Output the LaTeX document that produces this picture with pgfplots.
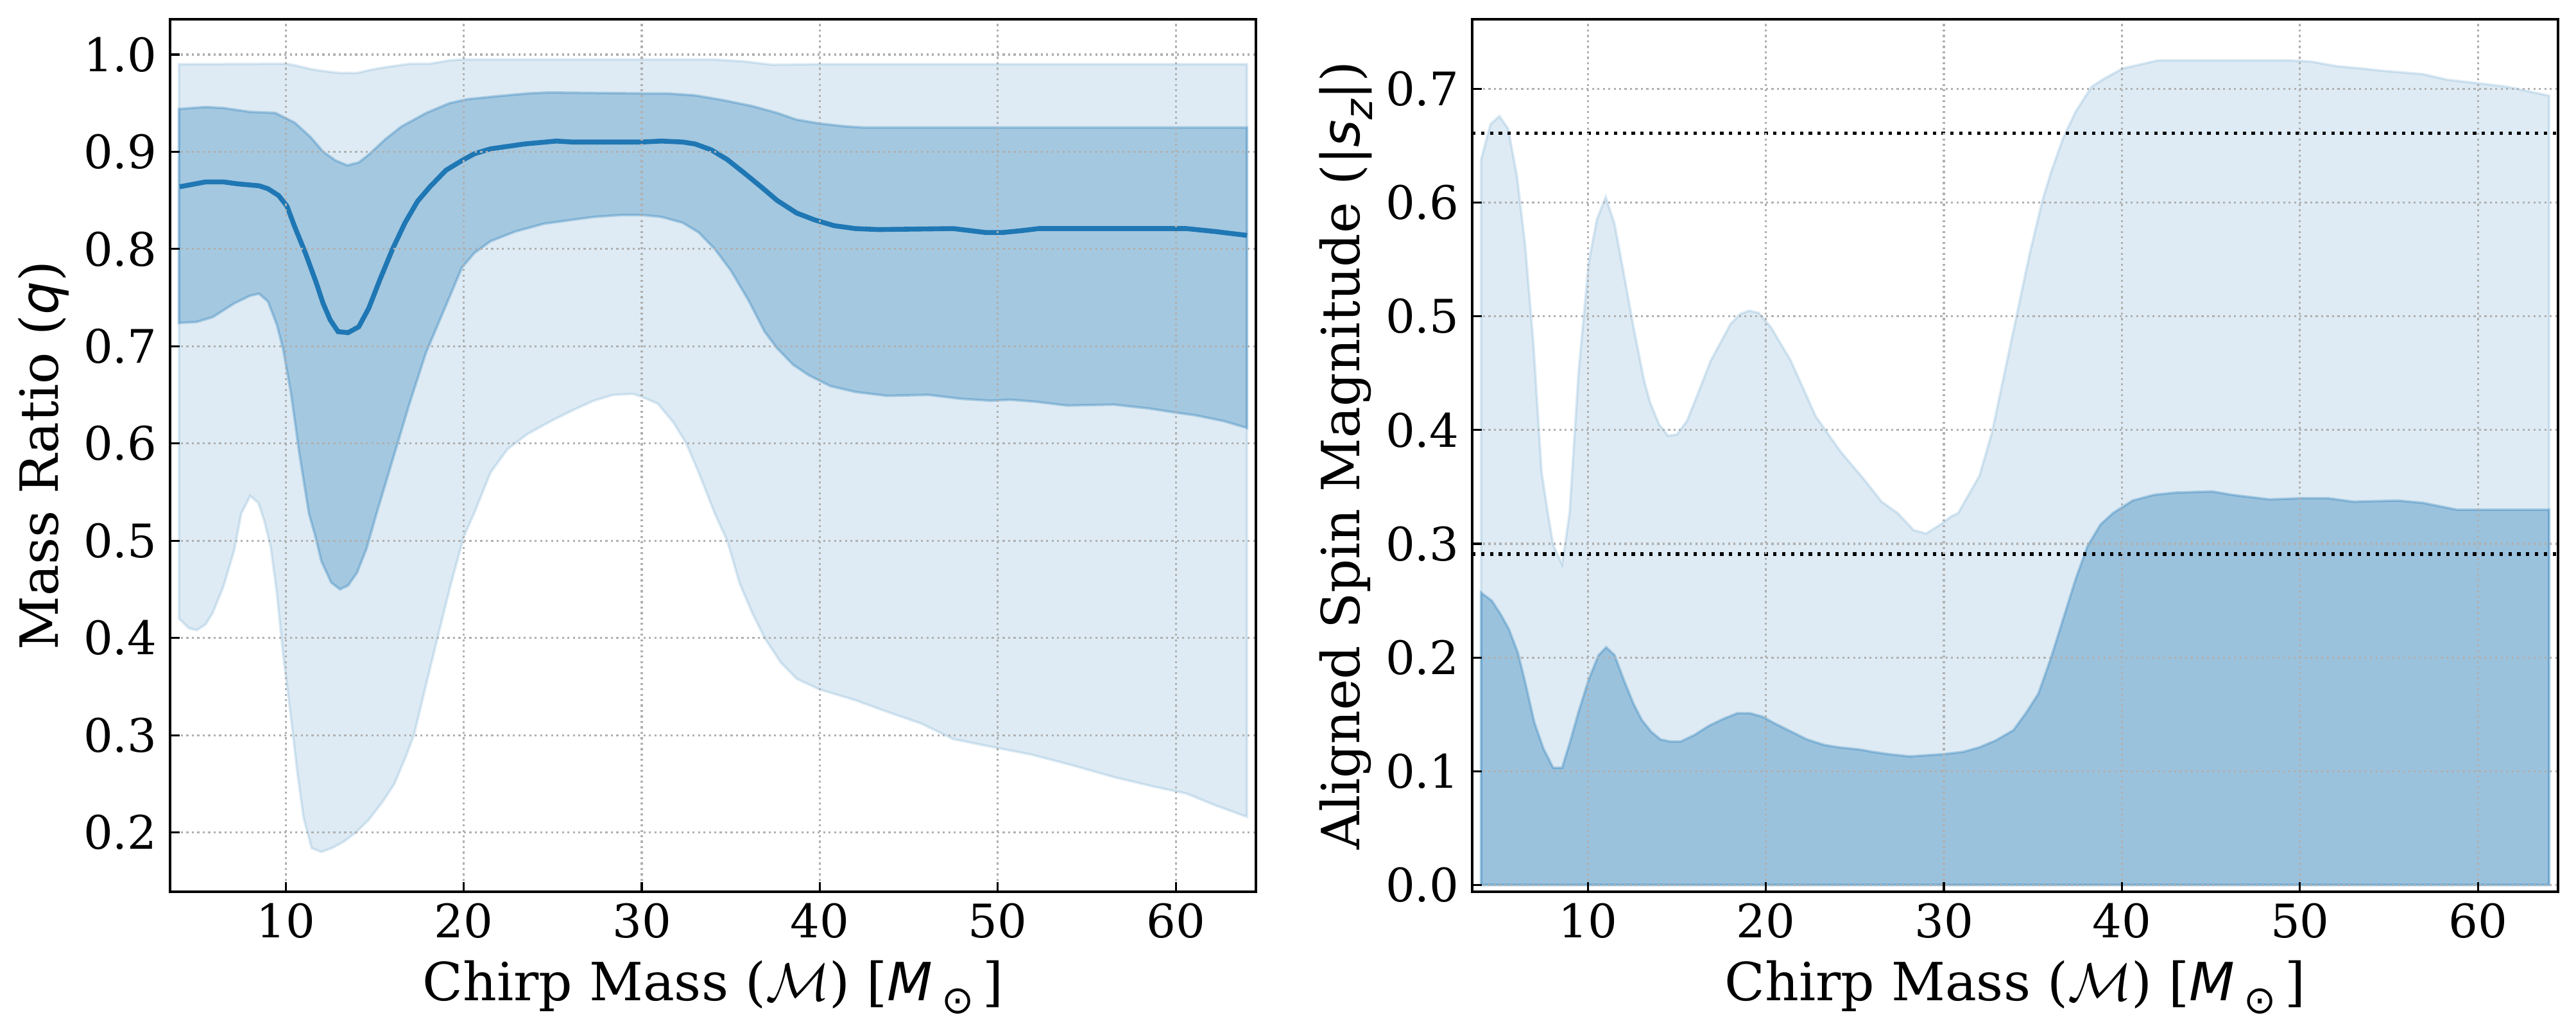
\documentclass[border=0pt]{standalone}
\usepackage{fontspec}
\setmainfont{DejaVu Serif}
\newfontfamily\dvsans{DejaVu Sans}
\usepackage{pgfplots}
\pgfplotsset{compat=1.18}
\definecolor{C0}{HTML}{1F77B4}
\definecolor{gridc}{HTML}{B0B0B0}
\pgfplotsset{
  common/.style={
    scale only axis, width=423pt, height=339.65pt,
    xmin=3.5, xmax=64.5,
    xtick={10,20,30,40,50,60},
    tick align=inside, tick pos=left,
    major tick length=3.75pt,
    every tick/.style={black, line width=0.8pt},
    axis line style={line width=1pt},
    grid=major,
    major grid style={draw=gridc, line width=0.8pt, dash pattern=on 0.8pt off 1.32pt},
    axis on top,
    /pgf/number format/assume math mode=true,
    tick label style={font=\fontsize{18}{21}\selectfont},
    label style={font=\fontsize{20.5}{24}\selectfont},
    xticklabel style={inner sep=0pt, yshift=-4.2pt},
    yticklabel style={inner sep=0pt, xshift=-4.9pt,
      /pgf/number format/.cd, fixed, fixed zerofill, precision=1},
    scaled y ticks=false,
    xlabel style={at={(axis description cs:0.5,-0.1245)}, anchor=base},
    ylabel style={at={(axis description cs:-0.1164,0.5)}, anchor=center},
    xlabel={Chirp Mass ($\mathcal{M}$) [{\dvsans\itshape M}\,{\dvsans\raisebox{-0.45ex}{\fontsize{15}{15}\selectfont ⊙}}\,]},
  },
  light/.style={fill=C0, fill opacity=0.15, draw=C0, draw opacity=0.15, line width=1pt},
}
\begin{document}
\begin{tikzpicture}
\useasboundingbox (0,0) rectangle (1003.5pt,402pt);
% ---------------- left panel ----------------
\begin{axis}[common, at={(66.25pt,54.75pt)}, anchor=south west,
  ymin=0.139, ymax=1.036,
  ytick={0.2,0.3,0.4,0.5,0.6,0.7,0.8,0.9,1.0},
  ylabel={Mass Ratio ({\dvsans\itshape q})}]
% outer band: upper then lower reversed
\addplot[light] coordinates {
(4,0.990) (10,0.9905) (10.5,0.989) (11.4,0.985) (12.1,0.983) (13.05,0.981) (14.0,0.981) (14.7,0.984) (15.6,0.987) (17.0,0.9905) (18.1,0.9905) (19.2,0.994) (20,0.995) (30,0.995) (33.9,0.995) (35.7,0.993) (37.3,0.9895) (40,0.990) (64,0.990)
(64,0.216) (62.2,0.228) (60.6,0.240) (58.8,0.247) (56.5,0.257) (54.2,0.269) (51.9,0.280) (49.1,0.290) (47.5,0.296) (45.7,0.312) (43.8,0.324) (42.0,0.336) (40,0.347) (38.7,0.358) (37.8,0.375) (36.9,0.400) (36.2,0.426) (35.5,0.456) (34.8,0.500) (34.1,0.528) (33.2,0.570) (32.5,0.600) (31.8,0.621) (30.9,0.641) (30,0.648) (29.5,0.651) (28.4,0.650) (27.3,0.644) (26.1,0.634) (25.0,0.624) (23.6,0.610) (22.45,0.594) (21.5,0.570) (20.6,0.529) (20.0,0.504) (19.24,0.453) (18.55,0.402) (17.87,0.351) (17.2,0.300) (16.7,0.276) (16.1,0.250) (15.46,0.232) (14.66,0.213) (14.0,0.201) (13.3,0.191) (12.6,0.184) (12.0,0.180) (11.45,0.184) (11.0,0.215) (10.64,0.263) (10.3,0.317) (9.84,0.385) (9.5,0.446) (9.15,0.494) (8.8,0.520) (8.46,0.539) (8.0,0.546) (7.5,0.528) (7.1,0.490) (6.5,0.453) (5.9,0.426) (5.5,0.414) (5.0,0.408) (4.56,0.410) (4,0.420)
} -- cycle;
% inner band
\addplot[fill=C0, fill opacity=0.3, draw=C0, draw opacity=0.3, line width=1pt] coordinates {
(4,0.944) (5.5,0.946) (6.5,0.945) (8.0,0.941) (9.4,0.940) (10.5,0.930) (11.4,0.915) (12.1,0.900) (12.8,0.891) (13.46,0.886) (14.1,0.889) (14.66,0.897) (15.6,0.913) (16.5,0.926) (17.9,0.940) (19.2,0.950) (20.2,0.954) (21.8,0.957) (23.6,0.960) (24.75,0.961) (30,0.960) (31.4,0.960) (33.0,0.958) (34.6,0.953) (36.2,0.947) (37.6,0.940) (38.7,0.933) (40,0.929) (41.5,0.926) (42.4,0.925) (64,0.925)
(64,0.616) (62.7,0.623) (61.1,0.629) (59.9,0.632) (58.5,0.636) (56.5,0.640) (53.9,0.639) (52.1,0.643) (50.7,0.645) (49.6,0.644) (47.9,0.646) (46.1,0.650) (43.8,0.649) (42.0,0.653) (40.6,0.659) (39.4,0.670) (38.5,0.681) (37.6,0.698) (36.9,0.715) (36.0,0.747) (35.0,0.778) (34.1,0.800) (33.2,0.817) (32.3,0.827) (31.1,0.833) (30,0.835) (28.9,0.835) (27.3,0.833) (26.1,0.830) (24.5,0.826) (22.9,0.818) (21.5,0.808) (20.6,0.796) (19.9,0.781) (19.0,0.742) (17.87,0.693) (16.95,0.641) (16.0,0.583) (15.1,0.528) (14.54,0.492) (14.0,0.467) (13.5,0.454) (13.05,0.450) (12.55,0.457) (12.0,0.479) (11.67,0.504) (11.3,0.528) (10.76,0.590) (10.3,0.651) (9.84,0.698) (9.5,0.722) (9.0,0.746) (8.5,0.754) (8.0,0.752) (7.1,0.744) (5.9,0.730) (5.0,0.725) (4,0.724)
} -- cycle;
% median
\addplot[C0, line width=1.9pt] coordinates {
(4.04,0.864) (5.5,0.869) (6.5,0.869) (7.3,0.867) (8.5,0.865) (9.0,0.862) (9.6,0.855) (10.07,0.844) (10.5,0.823) (11.1,0.796) (11.7,0.766) (12.1,0.744) (12.5,0.727) (12.94,0.715) (13.5,0.714) (14.1,0.720) (14.66,0.739) (15.3,0.769) (16.0,0.800) (16.7,0.827) (17.4,0.849) (18.1,0.864) (19.0,0.881) (19.9,0.891) (20.6,0.898) (21.5,0.903) (23.4,0.908) (25.2,0.911) (26.1,0.910) (30,0.910) (31.1,0.911) (32.3,0.910) (33.0,0.908) (33.9,0.902) (34.8,0.892) (35.7,0.879) (36.7,0.864) (37.6,0.850) (38.7,0.837) (39.7,0.830) (40.8,0.824) (42.0,0.821) (43.3,0.820) (47.5,0.821) (48.4,0.819) (49.3,0.817) (50.3,0.817) (51.4,0.819) (52.3,0.821) (59.9,0.821) (60.6,0.821) (62.2,0.818) (64.0,0.814)
};
\end{axis}
% ---------------- right panel ----------------
\begin{axis}[common, at={(573.5pt,54.75pt)}, anchor=south west,
  ymin=-0.006, ymax=0.761,
  ytick={0.0,0.1,0.2,0.3,0.4,0.5,0.6,0.7},
  ylabel={Aligned Spin Magnitude ({\dvsans |{\itshape s}\raisebox{-0.45ex}{\fontsize{15}{15}\selectfont\itshape z}|})}]
\addplot[light] coordinates {
(4,0) (4,0.638) (4.53,0.669) (5.03,0.676) (5.52,0.665) (6.02,0.623) (6.48,0.562) (6.94,0.476) (7.4,0.363) (7.75,0.327) (8.05,0.299) (8.55,0.282) (8.97,0.327) (9.47,0.450) (10.05,0.548) (10.5,0.585) (11.0,0.605) (11.5,0.581) (12.0,0.539) (12.57,0.490) (13.15,0.444) (13.5,0.424) (14.0,0.405) (14.5,0.395) (15.0,0.396) (15.56,0.408) (16.0,0.425) (16.9,0.461) (18.0,0.493) (18.55,0.502) (19.06,0.505) (19.6,0.503) (20.3,0.490) (21.4,0.461) (22.8,0.412) (24.2,0.381) (25.6,0.355) (26.5,0.337) (27.4,0.327) (28.3,0.312) (29.0,0.309) (29.9,0.318) (30.4,0.324) (30.8,0.327) (32.0,0.360) (32.7,0.398) (33.4,0.450) (34.1,0.502) (34.8,0.554) (35.5,0.600) (36.0,0.626) (36.7,0.657) (37.4,0.680) (38.3,0.702) (39.0,0.709) (40.05,0.718) (40.9,0.721) (42.0,0.725) (43.0,0.725) (49.5,0.725) (50.65,0.724) (52.05,0.720) (53.45,0.718) (54.6,0.716) (56.9,0.713) (58.3,0.708) (60.0,0.705) (61.6,0.702) (64.0,0.694) (64,0)
} -- cycle;
\addplot[fill=C0, fill opacity=0.35, draw=C0, draw opacity=0.3, line width=1pt] coordinates {
(4,0) (4,0.257) (4.6,0.250) (5.1,0.238) (5.56,0.225) (6.07,0.204) (6.48,0.178) (6.99,0.143) (7.5,0.120) (8.05,0.103) (8.55,0.103) (9.0,0.126) (9.47,0.152) (10.05,0.181) (10.6,0.202) (11.03,0.209) (11.5,0.202) (12.0,0.181) (12.57,0.159) (13.03,0.145) (13.54,0.135) (14.07,0.128) (14.64,0.126) (15.2,0.126) (16.0,0.132) (16.8,0.140) (17.6,0.146) (18.4,0.151) (19.1,0.151) (19.8,0.148) (20.5,0.142) (21.4,0.135) (22.3,0.128) (23.3,0.123) (24.1,0.121) (25.3,0.119) (26.0,0.117) (26.9,0.115) (28.1,0.113) (29.0,0.114) (30,0.115) (31.07,0.117) (32.0,0.121) (32.9,0.127) (33.9,0.136) (34.6,0.151) (35.3,0.168) (36.0,0.199) (36.7,0.234) (37.4,0.269) (38.07,0.298) (38.8,0.317) (39.5,0.327) (40.6,0.338) (41.8,0.343) (43.0,0.345) (45.06,0.346) (46.2,0.343) (48.3,0.339) (50.0,0.340) (51.6,0.340) (53.0,0.337) (55.5,0.338) (56.9,0.336) (58.8,0.330) (61.6,0.330) (64.0,0.330) (64,0)
} -- cycle;
\addplot[black, line width=1.3pt, dash pattern=on 1.3pt off 2.15pt] coordinates {(3.5,0.661) (64.5,0.661)};
\addplot[black, line width=1.3pt, dash pattern=on 1.3pt off 2.15pt] coordinates {(3.5,0.291) (64.5,0.291)};
\end{axis}
\end{tikzpicture}
\end{document}
